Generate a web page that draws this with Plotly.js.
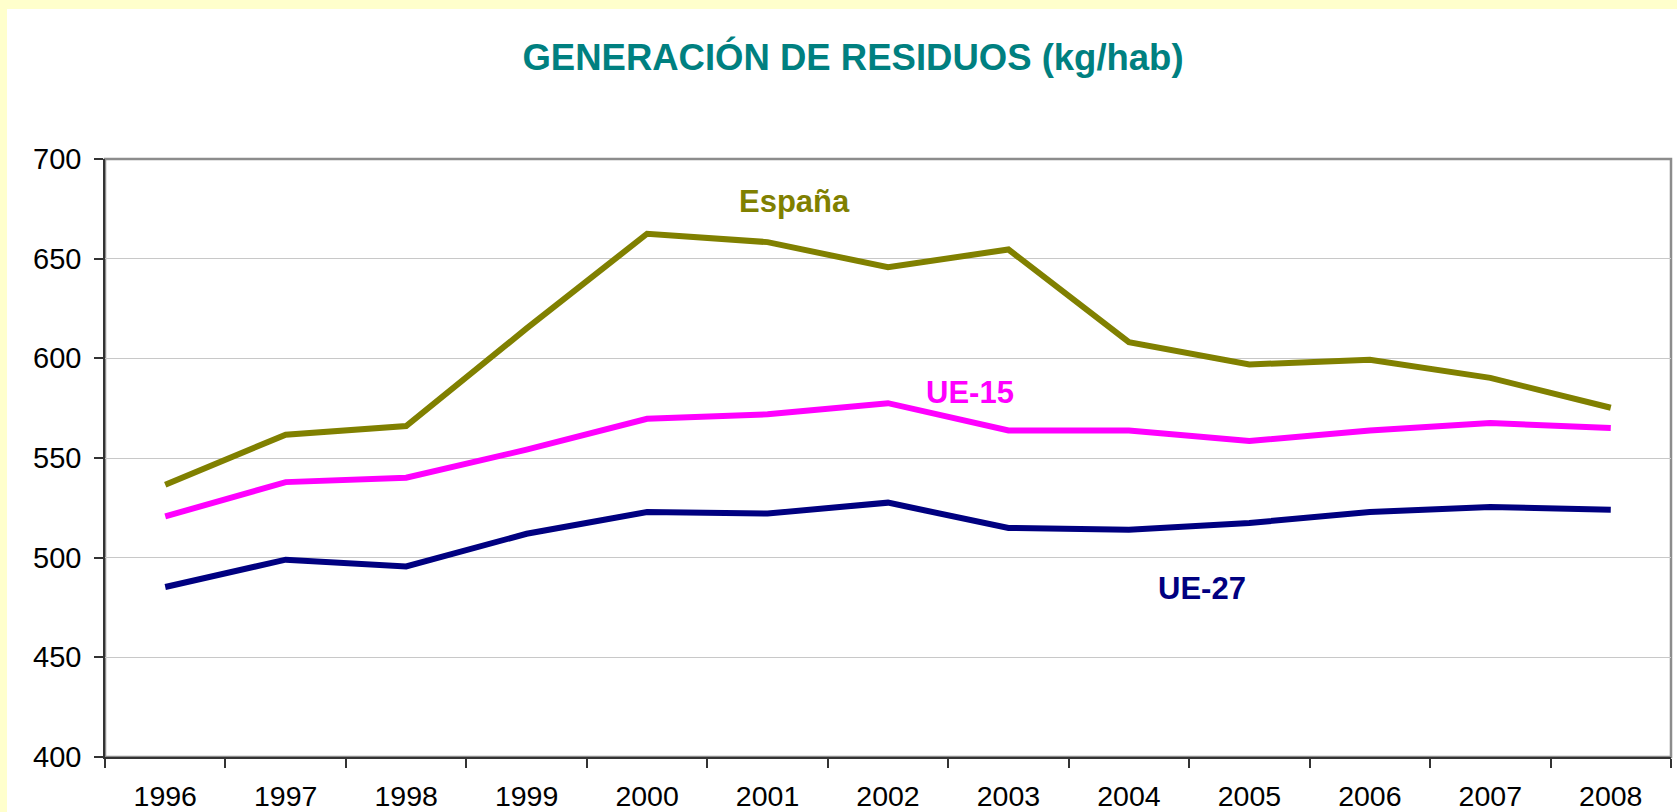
<!DOCTYPE html>
<html>
<head>
<meta charset="utf-8">
<script src="https://cdn.plot.ly/plotly-3.0.1.min.js"></script>
<style>
  html, body { margin: 0; padding: 0; background: #FFFFCC; width: 1677px; height: 812px; overflow: hidden; }
  #chart { position: absolute; left: 7px; top: 9px; width: 1670px; height: 803px; }
</style>
</head>
<body>
<div id="chart"></div>
<script>
const years = ['1996','1997','1998','1999','2000','2001','2002','2003','2004','2005','2006','2007','2008'];
const espana = [536.6, 561.7, 566.0, 615.0, 662.5, 658.3, 645.7, 654.6, 608.1, 596.9, 599.3, 590.2, 575.2];
const ue15   = [520.7, 537.9, 540.1, 554.2, 569.7, 571.9, 577.5, 563.8, 563.8, 558.5, 563.8, 567.5, 565.0];
const ue27   = [485.3, 499.0, 495.6, 512.0, 522.9, 522.1, 527.6, 514.9, 514.0, 517.4, 522.9, 525.4, 524.1];
const yTicks = [400, 450, 500, 550, 600, 650, 700];
const seriesNames = ['España', 'UE-15', 'UE-27'];

const FONT = 'Liberation Sans, Arial, sans-serif';
const colors = ['#808000', '#FF00FF', '#000080'];

const traces = [espana, ue15, ue27].map((vals, i) => ({
  type: 'scatter', mode: 'lines', x: years, y: vals, name: seriesNames[i],
  line: { color: colors[i], width: 6 }, hoverinfo: 'x+y+name'
}));

const layout = {
  width: 1670, height: 803,
  paper_bgcolor: '#FFFFFF', plot_bgcolor: '#FFFFFF',
  margin: { l: 98, r: 6, t: 150, b: 55 },
  showlegend: false,
  font: { family: FONT, color: '#000000' },
  title: {
    text: '<b>GENERACIÓN DE RESIDUOS (kg/hab)</b>',
    font: { family: FONT, size: 36.5, color: '#008080' },
    xref: 'container', yref: 'container', x: 0.5066, y: 0.9400,
    xanchor: 'center', yanchor: 'middle'
  },
  xaxis: {
    type: 'category', range: [-0.5, 12.5],
    tickson: 'boundaries', ticks: 'outside', ticklen: 9, tickwidth: 1.5, tickcolor: '#333333',
    showline: true, linecolor: '#333333', linewidth: 1.5,
    showgrid: false, zeroline: false,
    tickfont: { family: FONT, size: 28.5, color: '#000000' },
    ticklabelstandoff: 13, fixedrange: true
  },
  yaxis: {
    range: [400, 700], tickvals: yTicks, ticktext: yTicks.map(String),
    ticks: 'outside', ticklen: 9, tickwidth: 1.5, tickcolor: '#333333',
    showline: true, linecolor: '#333333', linewidth: 1.5,
    showgrid: true, gridcolor: '#C8C8C8', gridwidth: 1.2, zeroline: false,
    tickfont: { family: FONT, size: 29, color: '#000000' },
    ticklabelstandoff: 7, fixedrange: true
  },
  shapes: [{
    type: 'rect', xref: 'paper', yref: 'paper', x0: 0, x1: 1, y0: 0, y1: 1,
    line: { color: '#8C8C8C', width: 2.5 }, layer: 'below'
  }],
  annotations: [
    { text: '<b>España</b>', x: 5.22, y: 678.7, xref: 'x', yref: 'y', showarrow: false,
      font: { family: FONT, size: 31, color: colors[0] }, xanchor: 'center', yanchor: 'middle' },
    { text: '<b>UE-15</b>', x: 6.68, y: 583.1, xref: 'x', yref: 'y', showarrow: false,
      font: { family: FONT, size: 31, color: colors[1] }, xanchor: 'center', yanchor: 'middle' },
    { text: '<b>UE-27</b>', x: 8.61, y: 484.3, xref: 'x', yref: 'y', showarrow: false,
      font: { family: FONT, size: 31, color: colors[2] }, xanchor: 'center', yanchor: 'middle' }
  ]
};

Plotly.newPlot('chart', traces, layout, { displayModeBar: false });
</script>
</body>
</html>
